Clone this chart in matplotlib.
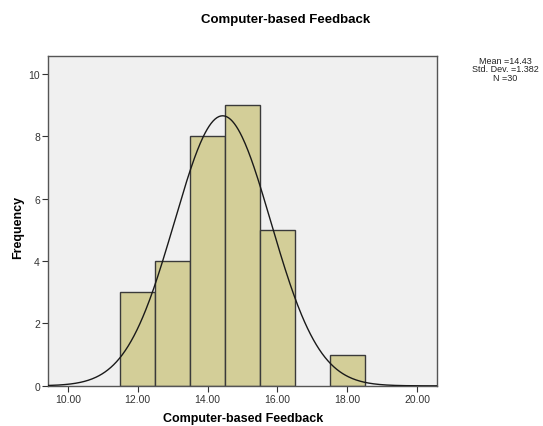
import numpy as np
import matplotlib.pyplot as plt

plt.rcParams['font.family'] = ['Liberation Sans', 'DejaVu Sans']

bin_centers = [12, 13, 14, 15, 16, 18]
counts = [3, 4, 8, 9, 5, 1]
mean = 14.43
std = 1.382
n = 30
x_ticks = [10, 12, 14, 16, 18, 20]
y_ticks = [0, 2, 4, 6, 8, 10]

fig = plt.figure(figsize=(5.43, 4.27), dpi=100)
ax = fig.add_axes([0.089, 0.094, 0.716, 0.772])
ax.set_facecolor('#f0f0f0')

ax.bar(bin_centers, counts, width=1.0, color='#d3ce98', edgecolor='#3a3a3a', linewidth=1.0, zorder=2)

xs = np.linspace(9.44, 20.57, 400)
ys = n * 1.0 / (std * np.sqrt(2 * np.pi)) * np.exp(-0.5 * ((xs - mean) / std) ** 2)
ax.plot(xs, ys, color='#1a1a1a', linewidth=1.0, zorder=3)

ax.set_xlim(9.44, 20.57)
ax.set_ylim(0, 10.57)
ax.set_xticks(x_ticks)
ax.set_xticklabels(['%.2f' % t for t in x_ticks])
ax.set_yticks(y_ticks)
ax.tick_params(direction='out', length=4, width=0.8, labelsize=7.5, colors='#333333', pad=2)
for s in ax.spines.values():
    s.set_color('#555555')
    s.set_linewidth(1.0)

# axis labels placed in figure pixels
fig.text(243 / 543, 1 - 419 / 427, 'Computer-based Feedback', ha='center', va='center',
         fontsize=9, fontweight='bold')
fig.text(18 / 543, 1 - 227 / 427, 'Frequency', ha='center', va='center', rotation=90,
         fontsize=9, fontweight='bold')

fig.text(286 / 543, 1 - 20 / 427, 'Computer-based Feedback', ha='center', va='center',
         fontsize=9.5, fontweight='bold')
fig.text(505 / 543, 1 - 70 / 427, 'Mean =%.2f\nStd. Dev. =%.3f\nN =%d' % (mean, std, n),
         ha='center', va='center', fontsize=6.5, linespacing=0.95, color='#222222')

fig.savefig('out.png', dpi=100)
